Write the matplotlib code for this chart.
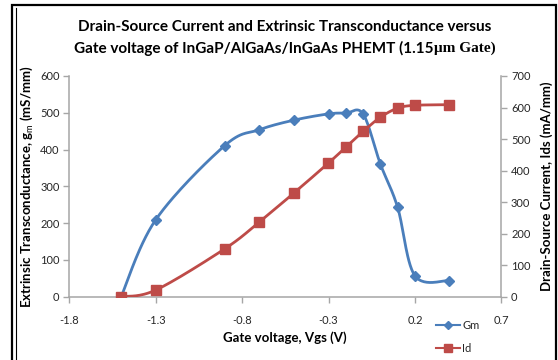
import numpy as np
import matplotlib
matplotlib.use("Agg")
import matplotlib.pyplot as plt
from matplotlib.lines import Line2D
from matplotlib.patches import Rectangle

# data
vgs = [-1.5, -1.3, -0.9, -0.7, -0.5, -0.3, -0.2, -0.1, 0.0, 0.1, 0.2, 0.4]
gm = [0, 209, 411, 454, 480, 497, 499, 497, 361, 243, 57, 44]
ids = [0, 21, 152, 237, 329, 424, 474, 524, 569, 598, 607, 609]

x_ticks = [-1.8, -1.3, -0.8, -0.3, 0.2, 0.7]
gm_ticks = [0, 100, 200, 300, 400, 500, 600]
id_ticks = [0, 100, 200, 300, 400, 500, 600, 700]

blue = "#4A7EBB"
red = "#BE4B48"
grey = "#A6A6A6"
txt = "#262626"

plt.rcParams["font.family"] = ["Lato", "DejaVu Sans"]
plt.rcParams["mathtext.fontset"] = "custom"
plt.rcParams["mathtext.rm"] = "Lato"
plt.rcParams["mathtext.bf"] = "Lato:bold"


def smooth(x, y, xlim, ylim, w, h, n=30):
    # Excel-like smoothed line: Catmull-Rom bezier computed in screen space
    u = (np.asarray(x, float) - xlim[0]) / (xlim[1] - xlim[0]) * w
    v = (np.asarray(y, float) - ylim[0]) / (ylim[1] - ylim[0]) * h
    p = np.column_stack([u, v])
    out = [p[0]]
    t = np.linspace(0, 1, n)[1:, None]
    for i in range(len(p) - 1):
        p0 = p[i - 1] if i > 0 else p[i]
        p3 = p[i + 2] if i + 2 < len(p) else p[i + 1]
        p1, p2 = p[i], p[i + 1]
        c1 = p1 + (p2 - p0) / 6
        c2 = p2 - (p3 - p1) / 6
        seg = ((1 - t) ** 3) * p1 + 3 * ((1 - t) ** 2) * t * c1 + 3 * (1 - t) * t ** 2 * c2 + t ** 3 * p2
        out.extend(seg)
    out = np.array(out)
    xs = out[:, 0] / w * (xlim[1] - xlim[0]) + xlim[0]
    ys = out[:, 1] / h * (ylim[1] - ylim[0]) + ylim[0]
    return xs, ys


W, H = 558, 360
fig = plt.figure(figsize=(W / 100, H / 100), dpi=100)

# chart frame
fig.add_artist(Rectangle((12 / W, -0.01), (556 - 12) / W, (H - 5) / H + 0.01,
                         transform=fig.transFigure, fill=False, ec="black", lw=1.6))
fig.add_artist(Line2D([15.5 / W, 15.5 / W], [0, (H - 8) / H], transform=fig.transFigure,
                      color="black", lw=0.8))

left, right, bottom, top = 69.3, 501.3, 296.7, 76.0
ax = fig.add_axes([left / W, 1 - bottom / H, (right - left) / W, (bottom - top) / H])
ax2 = ax.twinx()

xlim = (-1.8, 0.7)
ax.set_xlim(*xlim)
ax.set_ylim(0, 600)
ax2.set_ylim(0, 700)
pw, ph = right - left, bottom - top

xs, ys = smooth(vgs, gm, xlim, (0, 600), pw, ph)
ax.plot(xs, ys, color=blue, lw=2.0, solid_capstyle="round", zorder=3)
ax.plot(vgs, gm, ls="none", marker="D", ms=5.5, color=blue, zorder=4)

xs, ys = smooth(vgs, ids, xlim, (0, 700), pw, ph)
ax2.plot(xs, ys, color=red, lw=2.0, solid_capstyle="round", zorder=3)
ax2.plot(vgs, ids, ls="none", marker="s", ms=7, color=red, zorder=4)

for a in (ax, ax2):
    a.patch.set_visible(False)
    for s in a.spines.values():
        s.set_color(grey)
        s.set_linewidth(1.1)
    a.spines["top"].set_visible(False)
ax.spines["right"].set_visible(False)
ax2.spines["left"].set_visible(False)
ax2.spines["bottom"].set_visible(False)

ax.set_xticks(x_ticks)
ax.set_xticklabels([f"{v:.1f}" for v in x_ticks])
ax.set_yticks(gm_ticks)
ax2.set_yticks(id_ticks)
ax.tick_params(axis="x", direction="out", length=4, width=1, color=grey, pad=9,
               labelsize=8, labelcolor=txt)
ax.tick_params(axis="y", direction="out", length=4, width=1, color=grey, pad=3,
               labelsize=8, labelcolor=txt)
ax2.tick_params(axis="y", direction="out", length=4, width=1, color=grey, pad=3,
                labelsize=8, labelcolor=txt)

ax.set_xlabel("Gate voltage, Vgs (V)", fontsize=9.5, fontweight="bold", labelpad=4)
ax.set_ylabel(r"Extrinsic Transconductance, g$_\mathrm{m}$ (mS/mm)", fontsize=9.5,
              fontweight="bold", labelpad=4)
ax2.set_ylabel("Drain-Source Current, Ids (mA/mm)", fontsize=9.5, fontweight="bold",
               labelpad=7)

# title, second line partly in a serif face like the original
fig.text(285 / W, 1 - 27 / H, "Drain-Source Current and Extrinsic Transconductance versus",
         ha="center", va="center", fontsize=11, fontweight="bold", color="black")
renderer = fig.canvas.get_renderer()
t1 = fig.text(0, 1 - 48 / H, "Gate voltage of InGaP/AlGaAs/InGaAs PHEMT (1.15",
              ha="left", va="center", fontsize=11, fontweight="bold")
t2 = fig.text(0, 1 - 48 / H, "\u03bcm Gate)", ha="left", va="center", fontsize=11,
              fontweight="bold", family="Liberation Serif")
w1 = t1.get_window_extent(renderer).width
w2 = t2.get_window_extent(renderer).width
x0 = 285 - (w1 + w2) / 2
t1.set_x(x0 / W)
t2.set_x((x0 + w1) / W)

handles = [Line2D([], [], color=blue, lw=1.5, marker="D", ms=4.5),
           Line2D([], [], color=red, lw=1.5, marker="s", ms=6)]
fig.legend(handles, ["Gm", "Id"], loc="center left", bbox_to_anchor=(430 / W, 1 - 337 / H),
           frameon=False, fontsize=8, handlelength=2.2, handletextpad=0.2,
           labelspacing=1.1, borderpad=0, labelcolor=txt)

fig.savefig("out.png", dpi=100)
